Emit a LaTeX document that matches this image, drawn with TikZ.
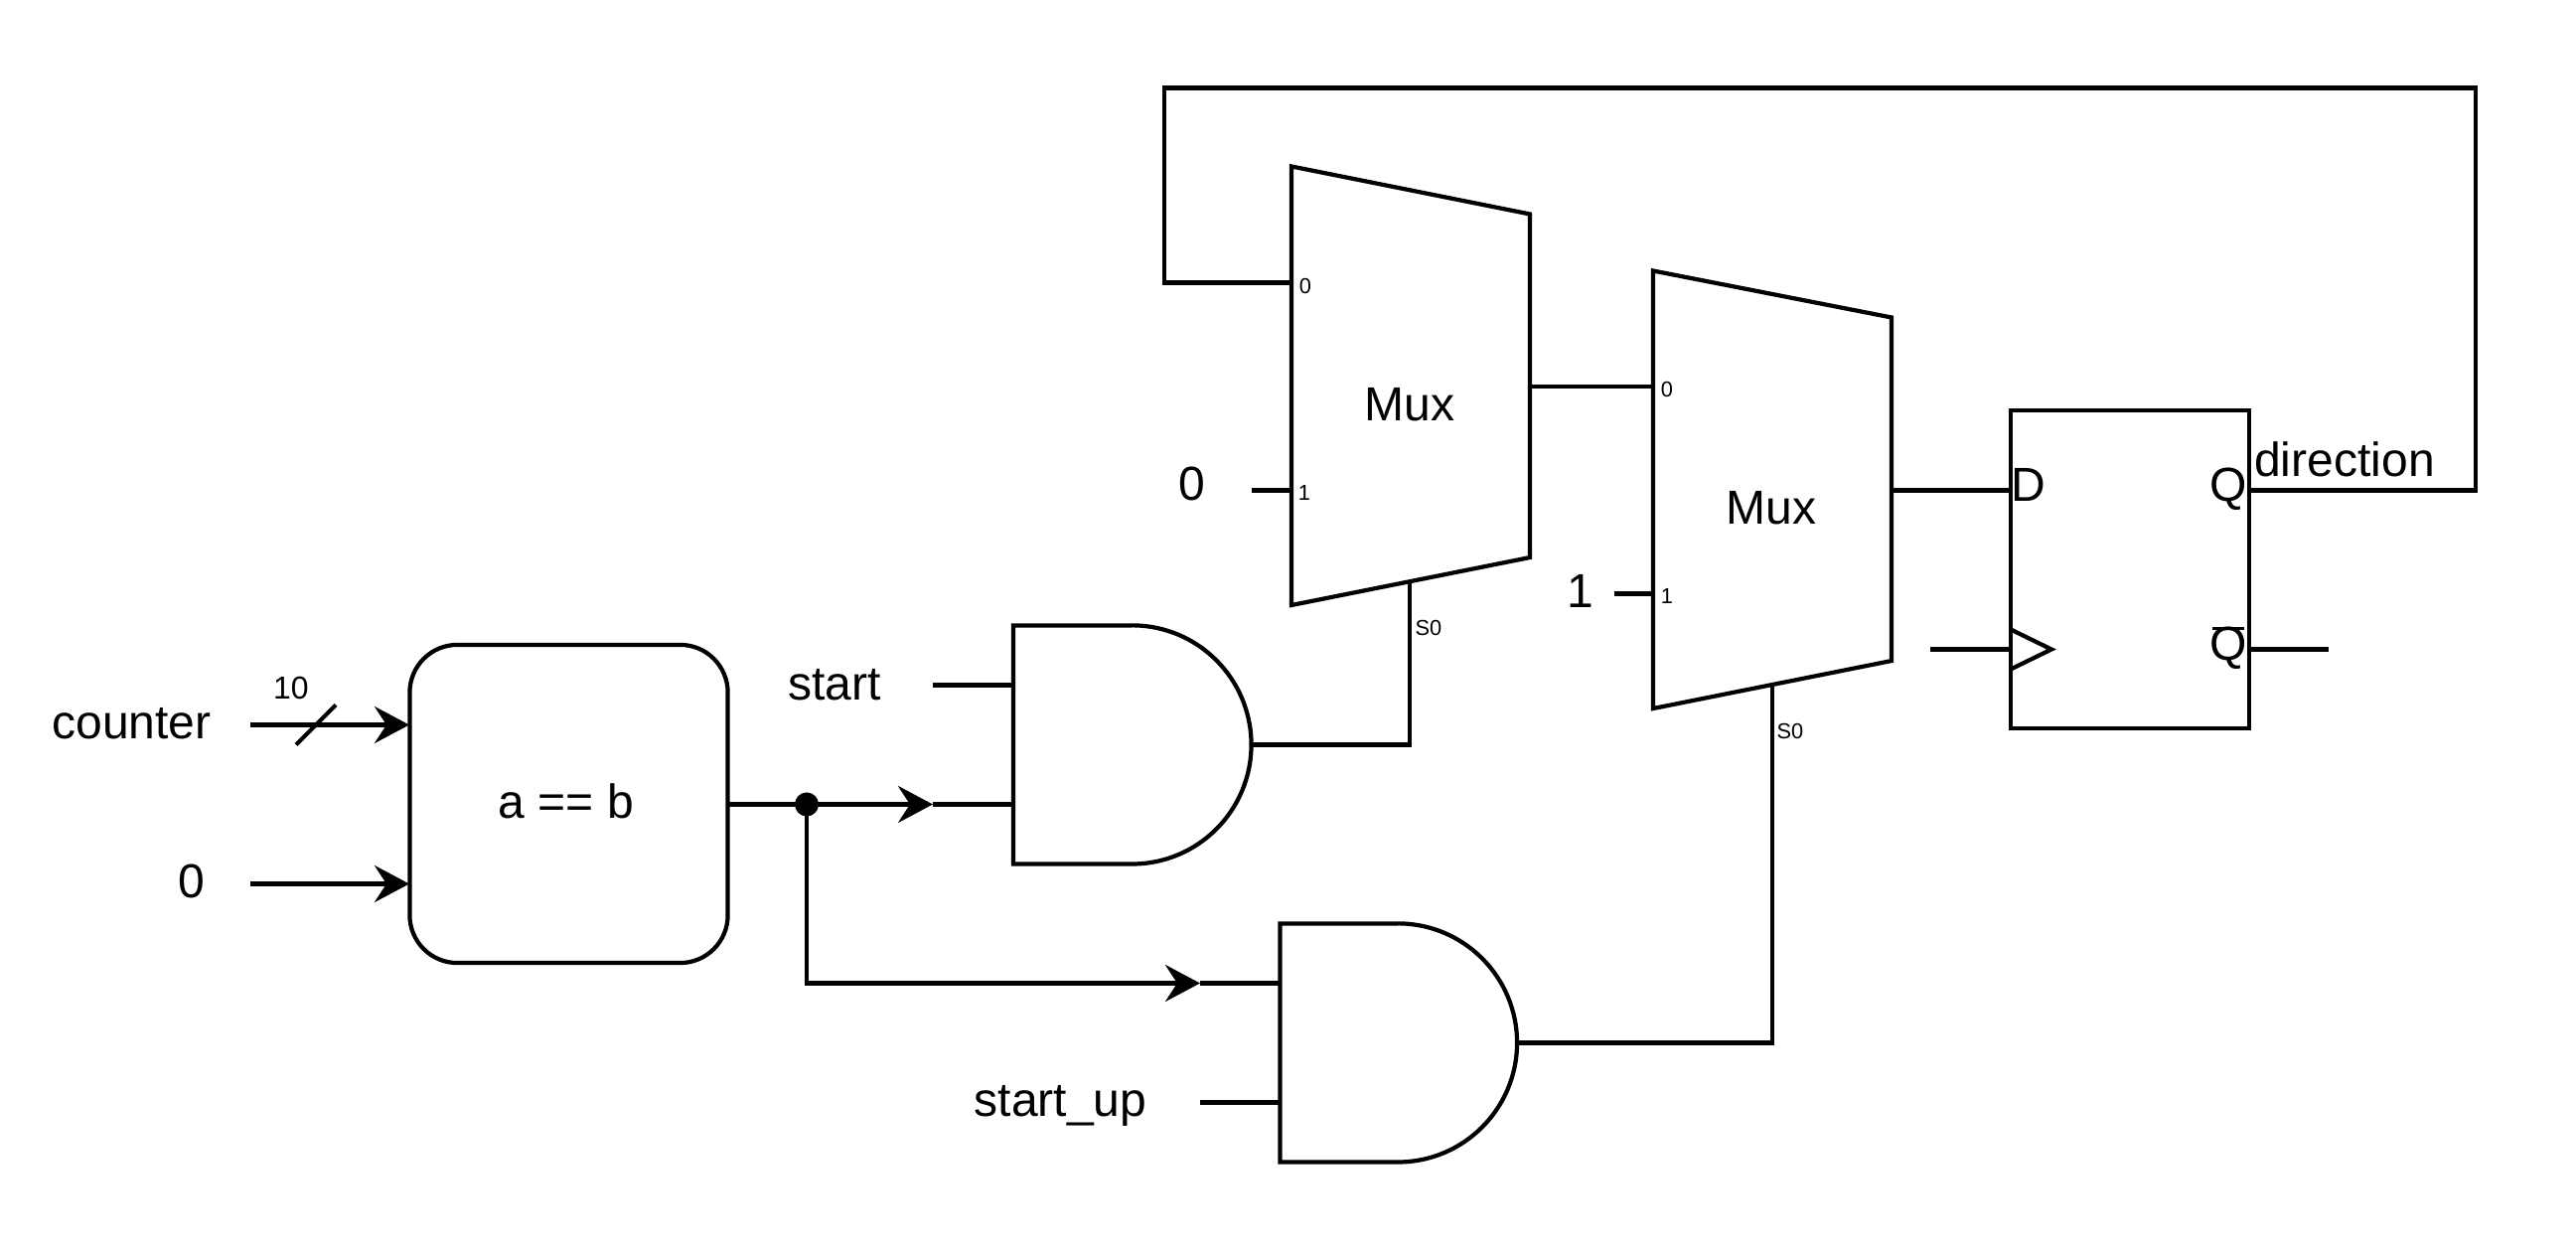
\documentclass[tikz,border=0pt]{standalone}
\usepackage{fontspec}
\setmainfont{Liberation Sans}
\usetikzlibrary{arrows.meta}
\tikzset{
	wire/.style={line width=1.2pt},
	arrowwire/.style={wire, -{Stealth[length=0.35cm,width=0.37cm,inset=0.12cm]}},
	biglabel/.style={anchor=base, inner sep=0pt, font=\fontsize{13.66}{16}\selectfont},
	midlabel/.style={anchor=base, inner sep=0pt, font=\fontsize{9.1}{11}\selectfont},
	portlabel/.style={anchor=base, inner sep=0pt, font=\fontsize{6.2}{8}\selectfont}
}
\begin{document}
\begin{tikzpicture}[x=0.01cm, y=-0.01cm]
		\useasboundingbox (0,-1.5) rectangle (2593,1259.5);
		% blocks
		\node[draw, wire, rounded corners=0.48cm, minimum width=3.20cm, minimum height=3.20cm, inner sep=0pt, outer sep=0pt] (cmp) at (572.5,807.5) {};
		\node[draw, wire, minimum width=2.40cm, minimum height=3.205cm, inner sep=0pt, outer sep=0pt] (ff) at (2144,571.5) {};
		\draw[wire, line join=miter] (1300,166) -- (1540,214) -- (1540,559.5) -- (1300,607.5) -- cycle;
		\draw[wire, line join=miter] (1664,271) -- (1904,318) -- (1904,663.5) -- (1664,711.5) -- cycle;
		\draw[wire] (1139.5,628) -- (1020,628) -- (1020,868) -- (1139.5,868) arc[start angle=-90, end angle=90, radius=1.2cm];
		\draw[wire] (1407,928) -- (1288.5,928) -- (1288.5,1168) -- (1407,1168) arc[start angle=-90, end angle=90, radius=1.2cm];
		\draw[wire] (2024,632) -- (2065,652) -- (2024,672);
		% ports
		\coordinate (cnt) at (252,728);
		\coordinate (cmpa) at (412,728);
		\coordinate (zer) at (252,888);
		\coordinate (cmpb) at (412,888);
		\coordinate (busa) at (298,748);
		\coordinate (busb) at (338,708);
		\coordinate (split) at (812,808);
		\coordinate (turn) at (812,988);
		\coordinate (starta) at (939,688);
		\coordinate (and1a) at (1020,688);
		\coordinate (starte) at (939,808);
		\coordinate (and1b) at (1020,808);
		\coordinate (and1y) at (1259.5,748);
		\coordinate (sel1) at (1419,584);
		\coordinate (sel1c) at (1419,748);
		\coordinate (uptip) at (1208,988);
		\coordinate (and2a) at (1288.5,988);
		\coordinate (upb) at (1208,1108);
		\coordinate (and2b) at (1288.5,1108);
		\coordinate (and2y) at (1527,1048);
		\coordinate (sel2) at (1784,688);
		\coordinate (sel2c) at (1784,1048);
		\coordinate (mux1a) at (1300,283);
		\coordinate (mux1b) at (1300,492);
		\coordinate (zerob) at (1260,492);
		\coordinate (mux1y) at (1540,387.5);
		\coordinate (mux2a) at (1664,387.5);
		\coordinate (mux2b) at (1664,596);
		\coordinate (oneb) at (1625,596);
		\coordinate (mux2y) at (1904,492);
		\coordinate (ffd) at (2024,492);
		\coordinate (ffq) at (2264,492);
		\coordinate (ffclk) at (2024,652);
		\coordinate (clk) at (1943,652);
		\coordinate (ffqn) at (2264,652);
		\coordinate (qnend) at (2344,652);
		\coordinate (loopa) at (2492,492);
		\coordinate (loopb) at (2492,87);
		\coordinate (loopc) at (1172,87);
		\coordinate (loopd) at (1172,283);
		% wires
		\draw[arrowwire] (cnt) -- (cmpa);
		\draw[arrowwire] (zer) -- (cmpb);
		\draw[wire] (busa) -- (busb);
		\draw[wire] (cmp.east |- split) -- (split);
		\draw[arrowwire] (split) -- (starte);
		\draw[wire] (starte) -- (and1b);
		\draw[wire] (starta) -- (and1a);
		\draw[arrowwire, line join=miter] (split) -- (turn) -- (uptip);
		\draw[wire] (uptip) -- (and2a);
		\draw[wire] (upb) -- (and2b);
		\draw[wire] (and1y) -- (sel1c) -- (sel1);
		\draw[wire] (and2y) -- (sel2c) -- (sel2);
		\draw[wire] (zerob) -- (mux1b);
		\draw[wire] (oneb) -- (mux2b);
		\draw[wire] (mux1y) -- (mux2a);
		\draw[wire] (mux2y) -- (ffd);
		\draw[wire] (clk) -- (ffclk);
		\draw[wire] (ffqn) -- (qnend);
		\draw[wire] (ffq) -- (loopa) -- (loopb) -- (loopc) -- (loopd) -- (mux1a);
		\fill (split) circle (0.12cm);
		% labels
		\node[biglabel] (counterlbl) at (132.5,742) {counter};
		\node[biglabel] (zerolbl) at (192.5,902) {0};
		\node[midlabel] (buslbl) at (293,702) {10};
		\node[biglabel] (cmplbl) at (570,822) {a == b};
		\node[biglabel] (startlbl) at (840,703) {start};
		\node[biglabel] (startuplbl) at (1067.5,1121.5) {start\_up};
		\node[biglabel] (muxalbl) at (1419,422) {Mux};
		\node[biglabel] (muxblbl) at (1783,526) {Mux};
		\node[biglabel] (muxazero) at (1199.5,502) {0};
		\node[biglabel] (muxbone) at (1591,610) {1};
		\node[portlabel] (pa0) at (1314,294) {0};
		\node[portlabel] (pa1) at (1313,502) {1};
		\node[portlabel] (pb0) at (1678,398) {0};
		\node[portlabel] (pb1) at (1678,606) {1};
		\node[portlabel] (psa) at (1438,638) {S0};
		\node[portlabel] (psb) at (1802,742) {S0};
		\node[biglabel] (dlbl) at (2042,503) {D};
		\node[biglabel] (qlbl) at (2243,503) {Q};
		\node[biglabel] (qnlbl) at (2243,663) {\rlap{\kern0.05em\rule[0.64em]{0.67em}{0.9pt}}Q};
		\node[biglabel] (dirlbl) at (2360,478) {direction};
		\end{tikzpicture}
\end{document}
